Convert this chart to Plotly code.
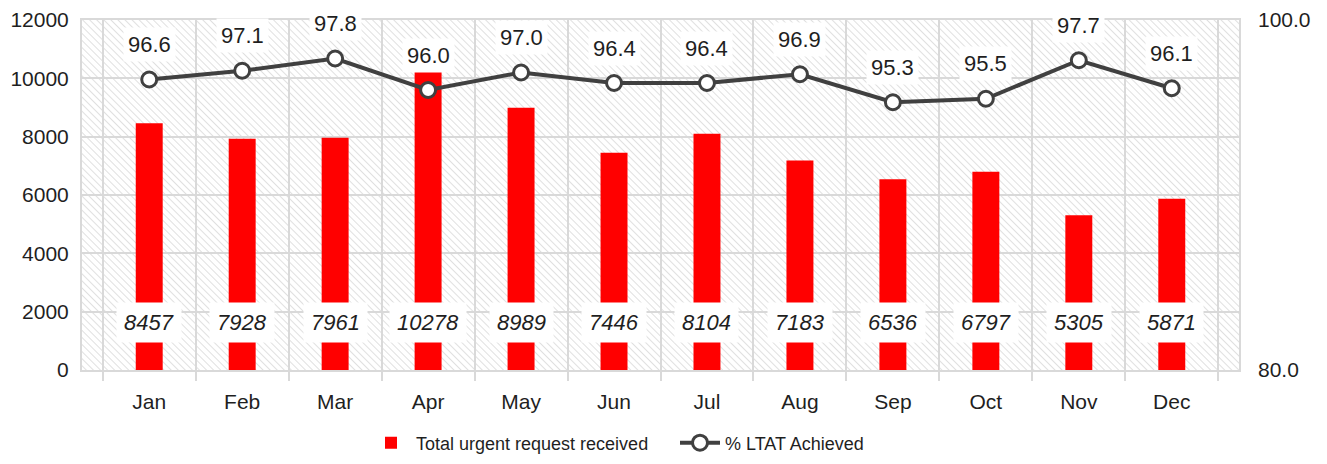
import base64
import plotly.graph_objects as go

months = ['Jan', 'Feb', 'Mar', 'Apr', 'May', 'Jun', 'Jul', 'Aug', 'Sep', 'Oct', 'Nov', 'Dec']
urgent_requests = [8457, 7928, 7961, 10278, 8989, 7446, 8104, 7183, 6536, 6797, 5305, 5871]
ltat_achieved = [96.6, 97.1, 97.8, 96.0, 97.0, 96.4, 96.4, 96.9, 95.3, 95.5, 97.7, 96.1]

FONT = 'Liberation Sans, Arial, sans-serif'
TXT = '#1f1f1f'
GRID = '#d9d9d9'

# hatched plot background, drawn as an svg image behind the grid
hatch = (
    '<svg xmlns="http://www.w3.org/2000/svg" width="1157" height="350">'
    '<defs><pattern id="p" width="5" height="5" patternUnits="userSpaceOnUse" '
    'patternTransform="rotate(-45)">'
    '<line x1="0" y1="0" x2="0" y2="5" stroke="#cfcfcf" stroke-width="1.3"/>'
    '</pattern></defs>'
    '<rect width="100%" height="100%" fill="white"/>'
    '<rect width="100%" height="100%" fill="url(#p)"/></svg>'
)
hatch_src = 'data:image/svg+xml;base64,' + base64.b64encode(hatch.encode()).decode()

fig = go.Figure()
fig.add_bar(x=months, y=urgent_requests, name='Total urgent request received',
            marker_color='#ff0000', marker_line_width=0)
fig.add_scatter(x=months, y=ltat_achieved, name='% LTAT Achieved', yaxis='y2',
                mode='lines+markers', line=dict(color='#404040', width=4),
                marker=dict(size=15, color='white', line=dict(color='#404040', width=3)))

# value labels
for m, v in zip(months, urgent_requests):
    fig.add_annotation(x=m, y=0.077, yref='paper', text=f'<i>{v}</i>', showarrow=False,
                       bgcolor='white', borderpad=7,
                       font=dict(family=FONT, size=22, color=TXT))
for m, v in zip(months, ltat_achieved):
    fig.add_annotation(x=m, y=v, yref='y2', text=f'{v:.1f}', showarrow=False, yshift=35,
                       bgcolor='white', borderpad=4,
                       font=dict(family=FONT, size=22, color=TXT))

# the page body has an 8px margin, so the figure is 16px smaller than the window
fig.update_layout(
    width=1311, height=448,
    margin=dict(l=74, r=80, t=12, b=86, autoexpand=False),
    paper_bgcolor='white', plot_bgcolor='white',
    font=dict(family=FONT, size=21, color=TXT),
    bargap=0.71,
    showlegend=True,
    legend=dict(orientation='h', x=(366 - 82) / 1157, xanchor='left',
                yref='container', y=13 / 448, yanchor='middle',
                font=dict(size=18), itemwidth=40, entrywidth=254),
    images=[dict(source=hatch_src, xref='paper', yref='paper', x=0, y=1,
                 sizex=1, sizey=1, sizing='stretch', layer='below')],
    xaxis=dict(type='category', tickson='boundaries', showgrid=True, gridcolor=GRID,
               gridwidth=2, ticks='outside', ticklen=9, tickwidth=2, tickcolor=GRID,
               showline=True, linecolor=GRID, linewidth=2, mirror=True,
               ticklabelstandoff=12, automargin=False, ticklabeloverflow='allow'),
    yaxis=dict(range=[0, 12000], dtick=2000, tickformat='d', showgrid=True,
               gridcolor=GRID, gridwidth=2, zeroline=False, showline=True,
               linecolor=GRID, linewidth=2, mirror=True, ticklabelstandoff=7,
               automargin=False, ticklabeloverflow='allow'),
    yaxis2=dict(overlaying='y', side='right', range=[80, 100], tickvals=[80, 100],
                tickformat='.1f', showgrid=False, zeroline=False, showline=False,
                ticklabelstandoff=18, automargin=False, ticklabeloverflow='allow'),
)

fig.write_html('out.html')
